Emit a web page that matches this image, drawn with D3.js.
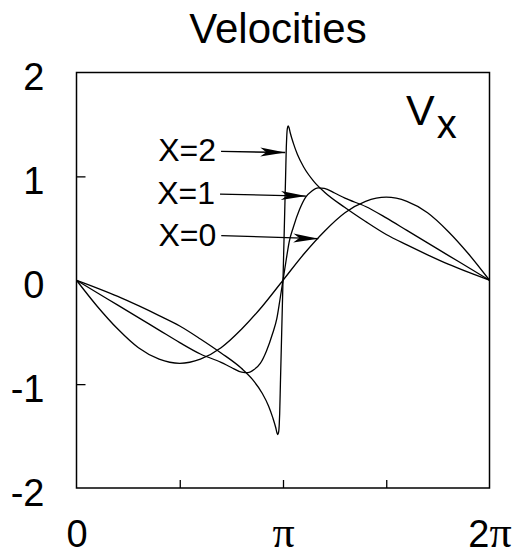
<!DOCTYPE html>
<html>
<head>
<meta charset="utf-8">
<script src="https://cdn.jsdelivr.net/npm/d3@7"></script>
<style>
  html, body { margin: 0; padding: 0; background: #fff; }
  svg { display: block; }
  text { font-family: "Liberation Sans", Arial, Helvetica, sans-serif; fill: #000; }
</style>
</head>
<body>
<svg id="chart" width="518" height="556"></svg>
<script>
// Phase in units of pi (0 .. 2) and velocity V_x for three stations X.
const phaseX0 = [0, 0.1, 0.2, 0.3, 0.4, 0.5, 0.6, 0.7, 0.8, 0.9, 1.0,
                 1.1, 1.2, 1.3, 1.4, 1.5, 1.6, 1.7, 1.8, 1.9, 2.0];
const velX0   = [0, -0.25, -0.47, -0.65, -0.76, -0.80, -0.76, -0.65, -0.47, -0.25, 0,
                 0.25, 0.47, 0.65, 0.76, 0.80, 0.76, 0.65, 0.47, 0.25, 0];

const phaseX1 = [0, 0.1, 0.2, 0.3, 0.4, 0.5, 0.6, 0.7, 0.75, 0.8, 0.83, 0.86, 0.89, 0.92, 0.95, 0.97, 0.985, 1.0,
                 1.015, 1.03, 1.05, 1.08, 1.11, 1.14, 1.17, 1.2, 1.25, 1.3, 1.4, 1.5, 1.6, 1.7, 1.8, 1.9, 2.0];
const velX1   = [0, -0.12, -0.24, -0.36, -0.48, -0.60, -0.71, -0.79, -0.84, -0.885, -0.89, -0.86, -0.80, -0.68, -0.51, -0.37, -0.19, 0,
                 0.19, 0.37, 0.51, 0.68, 0.80, 0.86, 0.89, 0.885, 0.84, 0.79, 0.71, 0.60, 0.48, 0.36, 0.24, 0.12, 0];

const phaseX2 = [0, 0.1, 0.2, 0.3, 0.4, 0.5, 0.6, 0.7, 0.8, 0.85, 0.9, 0.93, 0.95, 0.965, 0.971, 0.975, 0.979, 0.982, 0.984, 0.9874, 0.9937, 1.0,
                 1.0063, 1.0126, 1.016, 1.018, 1.021, 1.025, 1.029, 1.035, 1.05, 1.07, 1.1, 1.15, 1.2, 1.3, 1.4, 1.5, 1.6, 1.7, 1.8, 1.9, 2.0];
const velX2   = [0, -0.075, -0.155, -0.245, -0.34, -0.44, -0.565, -0.70, -0.85, -0.95, -1.09, -1.21, -1.32, -1.42, -1.47, -1.485, -1.46, -1.38, -1.28, -1.0, -0.5, 0,
                 0.5, 1.0, 1.28, 1.38, 1.46, 1.485, 1.47, 1.42, 1.32, 1.21, 1.09, 0.95, 0.85, 0.70, 0.565, 0.44, 0.34, 0.245, 0.155, 0.075, 0];

// Curve labels with arrow start/end (phase, velocity)
const labelNames  = ["X=2", "X=1", "X=0"];
const arrowFrom   = [[0.700, 1.24], [0.695, 0.83], [0.701, 0.43]];
const arrowTo     = [[1.011, 1.23], [1.111, 0.81], [1.171, 0.40]];

// Axis ticks
const yLabelTicks = [-2, -1, 0, 1, 2];
const yMarkTicks  = [-1, 1];
const xLabelTicks = [0, 1, 2];
const xLabelText  = ["0", "π", "2π"];
const xMarkTicks  = [0.5, 1, 1.5];

const svg = d3.select("#chart");
const plotLeft = 76.5, plotRight = 489.5, plotTop = 72.5, plotBottom = 488;

const x = d3.scaleLinear().domain([0, 2]).range([plotLeft, plotRight]);
const y = d3.scaleLinear().domain([-2, 2]).range([plotBottom, plotTop]);

// Title
svg.append("text")
  .attr("x", 278).attr("y", 43)
  .attr("text-anchor", "middle")
  .style("font-size", "42px")
  .text("Velocities");

// Inner tick marks
svg.append("g")
  .attr("transform", `translate(${plotLeft},0)`)
  .call(d3.axisRight(y).tickValues(yMarkTicks).tickSize(9).tickFormat(""))
  .call(g => g.select(".domain").remove())
  .call(g => g.selectAll("line").attr("stroke", "#000").attr("stroke-width", 1.3));

svg.append("g")
  .attr("transform", `translate(0,${plotBottom})`)
  .call(d3.axisTop(x).tickValues(xMarkTicks).tickSize(8).tickFormat(""))
  .call(g => g.select(".domain").remove())
  .call(g => g.selectAll("line").attr("stroke", "#000").attr("stroke-width", 1.3));

// Tick labels (plain hyphen for negatives)
svg.append("g")
  .attr("transform", `translate(${plotLeft},0)`)
  .call(d3.axisLeft(y).tickValues(yLabelTicks).tickSize(0).tickPadding(32).tickFormat(d => String(d)))
  .call(g => g.select(".domain").remove())
  .call(g => g.selectAll("text")
      .attr("dy", "0.45em")
      .style("font-size", "38px")
      .style("font-family", '"Liberation Sans", Arial, sans-serif')
      .attr("fill", "#000"));

const xAxis = svg.append("g")
  .attr("transform", `translate(0,${plotBottom})`)
  .call(d3.axisBottom(x).tickValues(xLabelTicks).tickSize(0).tickPadding(32)
        .tickFormat((d, i) => xLabelText[i]))
  .call(g => g.select(".domain").remove());

xAxis.selectAll("text")
  .style("font-size", "38px")
  .style("font-family", '"Liberation Sans", Arial, sans-serif')
  .attr("fill", "#000")
  .each(function (d, i) {
    const t = d3.select(this);
    const s = xLabelText[i];
    t.text(null);
    for (const ch of s) {
      const span = t.append("tspan").text(ch);
      if (ch === "π") span.style("font-family", '"Liberation Serif", "Times New Roman", serif').style("font-size", "44px");
    }
  });

// Frame
svg.append("rect")
  .attr("x", plotLeft).attr("y", plotTop)
  .attr("width", plotRight - plotLeft).attr("height", plotBottom - plotTop)
  .attr("fill", "none").attr("stroke", "#000").attr("stroke-width", 1.5);

// Curves
const line = d3.line()
  .x(d => x(d[0]))
  .y(d => y(d[1]))
  .curve(d3.curveMonotoneX);

const series = [
  { phase: phaseX0, vel: velX0 },
  { phase: phaseX1, vel: velX1 },
  { phase: phaseX2, vel: velX2 }
];

svg.append("g")
  .selectAll("path")
  .data(series)
  .join("path")
  .attr("d", s => line(s.phase.map((p, i) => [p, s.vel[i]])))
  .attr("fill", "none")
  .attr("stroke", "#000")
  .attr("stroke-width", 1.3);

// Arrowhead
svg.append("defs").append("marker")
  .attr("id", "arrowhead")
  .attr("markerUnits", "userSpaceOnUse")
  .attr("viewBox", "-26 -5 27 10")
  .attr("refX", 0).attr("refY", 0)
  .attr("markerWidth", 27).attr("markerHeight", 10)
  .attr("orient", "auto")
  .append("path")
  .attr("d", "M0,0 L-25,-4.5 L-19,0 L-25,4.5 Z")
  .attr("fill", "#000");

const ann = svg.append("g");
labelNames.forEach((name, i) => {
  const [fx, fy] = arrowFrom[i];
  const [tx, ty] = arrowTo[i];
  ann.append("line")
    .attr("x1", x(fx)).attr("y1", y(fy))
    .attr("x2", x(tx)).attr("y2", y(ty))
    .attr("stroke", "#000").attr("stroke-width", 1.3)
    .attr("marker-end", "url(#arrowhead)");
  ann.append("text")
    .attr("x", x(fx) - 5).attr("y", y(fy) + 10)
    .attr("text-anchor", "end")
    .style("font-size", "32px")
    .text(name);
});

// Panel label V_x
const vLabel = svg.append("text")
  .attr("x", 406).attr("y", 125)
  .style("font-size", "43px");
vLabel.append("tspan").text("V");
vLabel.append("tspan").attr("dy", 13).attr("dx", 2).style("font-size", "40px").text("x");
</script>
</body>
</html>
